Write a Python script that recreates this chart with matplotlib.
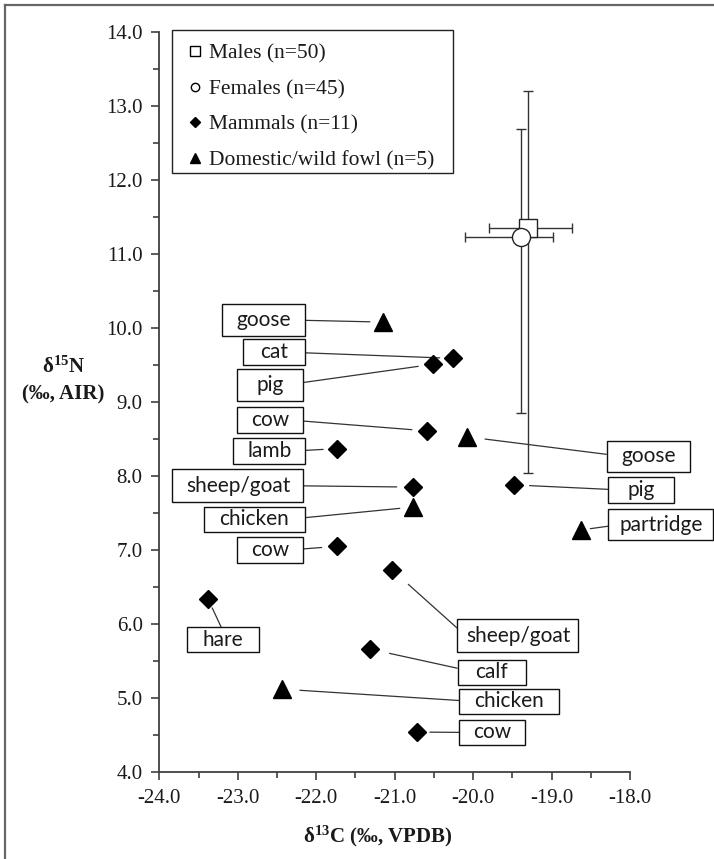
import matplotlib
matplotlib.use('Agg')
import matplotlib.pyplot as plt
from matplotlib.lines import Line2D
from matplotlib.patches import Rectangle
from matplotlib.path import Path
from matplotlib.ticker import MultipleLocator, FormatStrFormatter
from matplotlib.font_manager import FontProperties

plt.rcParams['mathtext.fontset'] = 'custom'
plt.rcParams['mathtext.rm'] = 'Liberation Serif'
plt.rcParams['mathtext.bf'] = 'Liberation Serif:bold'
plt.rcParams['mathtext.it'] = 'Liberation Serif:italic'

# ---------------- data ----------------
human_labels = ['Males (n=50)', 'Females (n=45)']
human_d13c = [-19.30, -19.39]
human_d15n = [11.35, 11.23]
human_xerr_lo = [0.50, 0.71]
human_xerr_hi = [0.56, 0.41]
human_yerr_lo = [3.31, 2.38]
human_yerr_hi = [1.85, 1.46]

mammal_names = ['cat', 'pig', 'cow', 'lamb', 'sheep/goat', 'cow',
                'sheep/goat', 'hare', 'calf', 'cow', 'pig']
mammal_d13c = [-20.26, -20.51, -20.59, -21.74, -20.77, -21.74,
               -21.03, -23.38, -21.31, -20.72, -19.48]
mammal_d15n = [9.59, 9.51, 8.61, 8.37, 7.85, 7.05,
               6.73, 6.34, 5.66, 4.54, 7.88]

fowl_names = ['goose', 'goose', 'chicken', 'chicken', 'partridge']
fowl_d13c = [-21.15, -20.08, -20.77, -22.44, -18.63]
fowl_d15n = [10.08, 8.53, 7.58, 5.12, 7.27]

legend_labels = ['Males (n=50)', 'Females (n=45)', 'Mammals (n=11)',
                 'Domestic/wild fowl (n=5)']

# ---------------- label layout (annotation boxes) ----------------
mammal_label_xy = [(-22.535, 9.673), (-22.583, 9.227), (-22.583, 8.757),
                   (-22.599, 8.335), (-22.997, 7.869), (-22.583, 7.0),
                   (-19.428, 5.84), (-23.194, 5.784), (-19.763, 5.349),
                   (-19.753, 4.534), (-17.856, 7.807)]
mammal_box = [(62, 26), (66, 32), (66, 26), (72, 26), (131, 33), (66, 26),
              (121, 33), (72, 25), (68, 25), (66, 25), (66, 26)]
mammal_relpos = [(1, .5), (1, .5), (1, .5), (1, .5), (1, .5), (1, .5),
                 (0, .5), (.5, 1), (0, .5), (0, .5), (0, .5)]
mammal_shrink = [13, 15, 15, 13.5, 16, 15, 21.5, 10, 19.7, 13.3, 15.7]

fowl_label_xy = [(-22.675, 10.108), (-17.767, 8.268), (-22.787, 7.416),
                 (-19.54, 4.953), (-17.607, 7.342)]
fowl_box = [(83, 32), (83, 31), (101, 25), (100, 25), (105, 31)]
fowl_relpos = [(1, .5), (0, .5), (1, .5), (0, .5), (0, .5)]
fowl_shrink = [13, 18.4, 13, 18.3, 9.8]

W, H = 714, 859
fig = plt.figure(figsize=(W / 100, H / 100), dpi=100)
ax = fig.add_axes([159.3 / W, 1 - 772 / H, 470.7 / W, 740 / H])


class FixedBox:
    def __init__(self, w, h):
        self.w = w
        self.h = h

    def __call__(self, x0, y0, width, height, mutation_size):
        cx = x0 + width / 2
        cy = y0 + height / 2
        s = fig.dpi / 100.0
        w = self.w * s / 2
        h = self.h * s / 2
        return Path([(cx - w, cy - h), (cx + w, cy - h), (cx + w, cy + h),
                     (cx - w, cy + h), (cx - w, cy - h)], closed=True)


axis_col = '#404040'
ax.set_xlim(-24, -18)
ax.set_ylim(4, 14)
for s in ['top', 'right']:
    ax.spines[s].set_visible(False)
for s in ['left', 'bottom']:
    ax.spines[s].set_color(axis_col)
    ax.spines[s].set_linewidth(1.3)
ax.xaxis.set_major_locator(MultipleLocator(1))
ax.xaxis.set_minor_locator(MultipleLocator(0.5))
ax.yaxis.set_major_locator(MultipleLocator(1))
ax.yaxis.set_minor_locator(MultipleLocator(0.5))
ax.xaxis.set_major_formatter(FormatStrFormatter('%.1f'))
ax.yaxis.set_major_formatter(FormatStrFormatter('%.1f'))
ax.tick_params(which='major', direction='out', length=6, width=1.2,
               color=axis_col, labelsize=15, labelcolor='#1a1a1a', pad=6)
ax.tick_params(which='minor', direction='out', length=4.5, width=1.2,
               color=axis_col)
for lab in ax.get_xticklabels() + ax.get_yticklabels():
    lab.set_fontfamily('Liberation Serif')

# human error bars
ax.errorbar(human_d13c, human_d15n,
            xerr=[human_xerr_lo, human_xerr_hi],
            yerr=[human_yerr_lo, human_yerr_hi],
            fmt='none', ecolor='#333333', elinewidth=1.0, capsize=3.5,
            capthick=1.0, zorder=3)
ax.plot(human_d13c[0], human_d15n[0], ls='none', marker='s', ms=13,
        mfc='white', mec='#222222', mew=1.0, zorder=5)
ax.plot(human_d13c[1], human_d15n[1], ls='none', marker='o', ms=13,
        mfc='white', mec='#222222', mew=1.0, zorder=6)

# animals
ax.plot(mammal_d13c, mammal_d15n, ls='none', marker='D', ms=9,
        mfc='black', mec='black', zorder=5)
ax.plot(fowl_d13c, fowl_d15n, ls='none', marker='^', ms=12.5,
        mfc='black', mec='black', zorder=5)


def add_labels(names, xs, ys, pos, boxes, relpos, shrink):
    for n, x, y, p, b, r, sh in zip(names, xs, ys, pos, boxes, relpos, shrink):
        ax.annotate(n, xy=(x, y), xytext=p, textcoords='data',
                    ha='center', va='center', fontsize=15,
                    family='Lato', color='#1a1a1a', annotation_clip=False,
                    bbox=dict(boxstyle=FixedBox(*b), fc='white',
                              ec='#111111', lw=1.0),
                    arrowprops=dict(arrowstyle='-', color='#333333', lw=0.9,
                                    relpos=r, shrinkA=0, shrinkB=sh * 0.72),
                    zorder=4)


add_labels(mammal_names, mammal_d13c, mammal_d15n, mammal_label_xy,
           mammal_box, mammal_relpos, mammal_shrink)
add_labels(fowl_names, fowl_d13c, fowl_d15n, fowl_label_xy,
           fowl_box, fowl_relpos, fowl_shrink)

# legend frame (drawn separately, inside the axes drawing order) + content
ax.add_patch(Rectangle((172 / W, 1 - 173 / H), 281 / W, 143 / H,
                       transform=fig.transFigure, fc='white',
                       ec='#222222', lw=1.0, zorder=9, clip_on=False))
handles = [
    Line2D([], [], ls='none', marker='s', ms=7, mfc='white', mec='black', mew=1),
    Line2D([], [], ls='none', marker='o', ms=6, mfc='white', mec='black', mew=1),
    Line2D([], [], ls='none', marker='D', ms=5.5, mfc='black', mec='black'),
    Line2D([], [], ls='none', marker='^', ms=7.5, mfc='black', mec='black'),
]
leg = ax.legend(handles, legend_labels, loc='upper left',
                bbox_to_anchor=(172 / W, 1 - 36 / H - 0.01, 281 / W, 0.01),
                bbox_transform=fig.transFigure, mode='expand',
                prop=FontProperties(family='Liberation Serif', size=15.5),
                frameon=False, borderpad=0.35, labelspacing=0.72,
                handlelength=1.4, handletextpad=-0.05, borderaxespad=0)
for t in leg.get_texts():
    t.set_color('#1a1a1a')
leg.set_zorder(10)

# axis labels
fig.text(63 / W, 1 - 367 / H, r'δ$^{\mathbf{15}}$N', ha='center', va='center',
         fontsize=15, fontweight='bold', family='Liberation Serif',
         color='#1a1a1a')
fig.text(63 / W, 1 - 394 / H, '(‰, AIR)', ha='center', va='center',
         fontsize=15, fontweight='bold', family='Liberation Serif',
         color='#1a1a1a')
fig.text(378 / W, 1 - 836 / H, r'δ$^{\mathbf{13}}$C (‰, VPDB)', ha='center',
         va='center', fontsize=15, fontweight='bold',
         family='Liberation Serif', color='#1a1a1a')

# outer frame (top and left visible)
fig.add_artist(Line2D([5 / W, 1.0], [1 - 5 / H, 1 - 5 / H],
                      transform=fig.transFigure, color='#666666', lw=1.6))
fig.add_artist(Line2D([5 / W, 5 / W], [0, 1 - 5 / H],
                      transform=fig.transFigure, color='#666666', lw=1.6))

fig.savefig('out.png', dpi=100)
